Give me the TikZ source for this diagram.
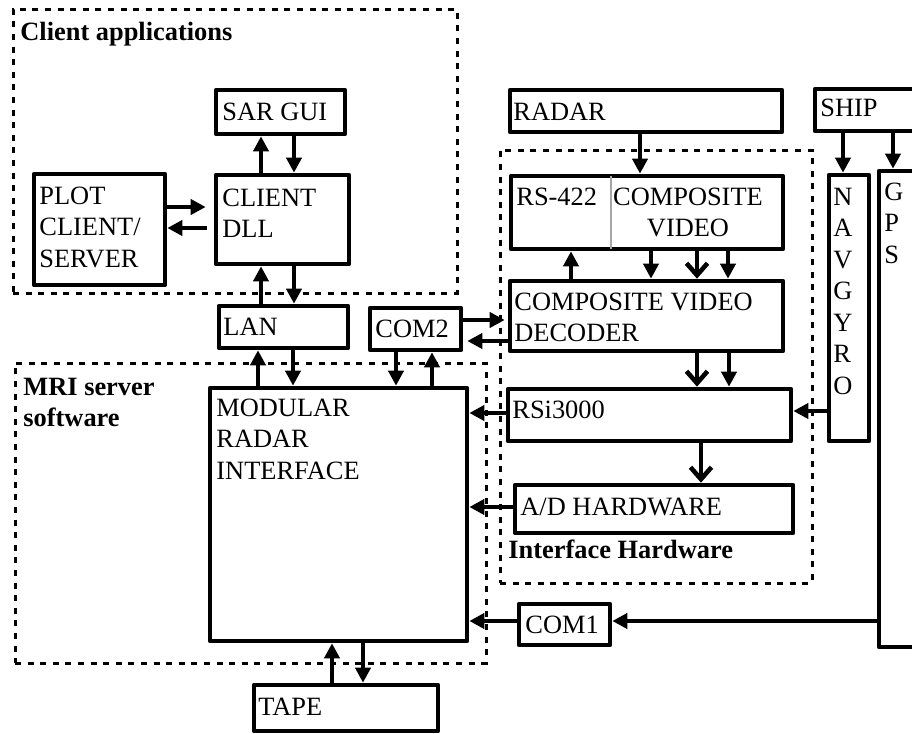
\documentclass[tikz,border=0pt]{standalone}
\usepackage{fontspec}
\setmainfont{Liberation Serif}
\usetikzlibrary{arrows.meta,fit}
\newcommand{\mylines}[1]{\begin{tabular}[t]{@{}l@{}}#1\end{tabular}}
\newcommand{\myclines}[1]{\begin{tabular}[t]{@{}c@{}}#1\end{tabular}}
\begin{document}
\begin{tikzpicture}[x=0.5pt,y=-0.5pt,
  box/.style={draw, line width=2.3pt, line join=round, inner sep=0pt},
  region/.style={draw, line width=1.5pt, dash pattern=on 3pt off 3.3pt, inner sep=0pt},
  txt/.style={anchor=base west, inner sep=0pt, font=\fontsize{13.2}{15.75}\selectfont},
  btxt/.style={anchor=base west, inner sep=0pt, font=\fontsize{13.2}{15.75}\selectfont\bfseries},
  arr/.style={line width=2.3pt, -{Triangle[length=7.5pt 0, width=7.5pt 0]}},
  barb/.style={line width=2.3pt, -{Straight Barb[length=6pt, width=10.5pt]}},
]
\useasboundingbox (0,0) rectangle (912,734);
\clip (0,0) rectangle (912,734);

% dashed regions
\node[region, fit={(13,9) (457,293)}] (clientreg) {};
\node[region, fit={(15,363) (486,663)}] (mrireg) {};
\node[region, fit={(500,150) (812,583)}] (ifreg) {};

% boxes
\node[box, fit={(216,90) (345,134)}] (sar) {};
\node[box, fit={(216,175) (349,264)}] (cdll) {};
\node[box, fit={(34,174) (165,285)}] (plot) {};
\node[box, fit={(219,306) (348,348)}] (lan) {};
\node[box, fit={(370,308) (461,350)}] (com2) {};
\node[box, fit={(210,388) (467,641)}] (mod) {};
\node[box, fit={(254,685) (438,731)}] (tape) {};
\node[box, fit={(510,90) (782,132)}] (radar) {};
\node[box, fit={(815,89) (940,131)}] (ship) {};
\node[box, fit={(511,176) (783,249)}] (rsbox) {};
\draw[gray!70, line width=0.7pt] (611,176) -- (611,249);
\node[box, fit={(510,281) (783,351)}] (dec) {};
\node[box, fit={(829,175) (869,441)}] (nav) {};
\node[box, fit={(879,171) (940,647)}] (gps) {};
\node[box, fit={(508,389) (791,441)}] (rsi) {};
\node[box, fit={(515,485) (793,533)}] (ad) {};
\node[box, fit={(519,604) (610,645)}] (com1) {};

% texts
\node[btxt] (tclient) at (20,40) {Client applications};
\node[btxt] (tmri) at (23,395) {\mylines{MRI server\\software}};
\node[btxt] (tif) at (508,558) {Interface Hardware};
\node[txt] (tsar) at (222,120) {SAR GUI};
\node[txt] (tcdll) at (222,206) {\mylines{CLIENT\\DLL}};
\node[txt] (tplot) at (39,204) {\mylines{PLOT\\CLIENT/\\SERVER}};
\node[txt] (tlan) at (223,335) {LAN};
\node[txt] (tcom2) at (375,337) {COM2};
\node[txt] (tmod) at (216,416) {\mylines{MODULAR\\RADAR\\INTERFACE}};
\node[txt] (ttape) at (258,715) {TAPE};
\node[txt] (tradar) at (513,120) {RADAR};
\node[txt] (tship) at (820,116) {SHIP};
\node[txt] (trs) at (516,205) {RS-422};
\node[txt, anchor=base] (tcv) at (688,205) {\myclines{COMPOSITE\\VIDEO}};
\node[txt] (tdec) at (514,310) {\mylines{COMPOSITE VIDEO\\DECODER}};
\node[txt] (tnav) at (833,205) {\mylines{N\\A\\V\\G\\Y\\R\\O}};
\node[txt] (tgps) at (884,200) {\mylines{G\\P\\S}};
\node[txt] (trsi) at (512,418) {RSi3000};
\node[txt] (tad) at (520,515) {A/D HARDWARE};
\node[txt] (tcom1) at (525,633) {COM1};

% connectors
\draw[arr] (cdll.north -| 261,0) -- (sar.south -| 261,0);
\draw[arr] (sar.south -| 294,0) -- (cdll.north -| 294,0);
\draw[arr, shorten >=4pt] (plot.east |- 0,207) -- (cdll.west |- 0,207);
\draw[arr, shorten <=3.5pt] (cdll.west |- 0,228) -- (plot.east |- 0,228);
\draw[arr] (lan.north -| 261,0) -- (cdll.south -| 261,0);
\draw[arr] (cdll.south -| 294,0) -- (lan.north -| 294,0);
\draw[arr] (mod.north -| 258,0) -- (lan.south -| 258,0);
\draw[arr] (lan.south -| 293,0) -- (mod.north -| 293,0);
\draw[arr] (com2.south -| 396,0) -- (mod.north -| 396,0);
\draw[arr] (mod.north -| 432,0) -- (com2.south -| 432,0);
\draw[arr, shorten >=1.5pt] (com2.east |- 0,320) -- (dec.west |- 0,320);
\draw[arr, shorten >=2pt] (dec.west |- 0,341) -- (com2.east |- 0,341);
\draw[arr] (radar.south -| 640,0) -- (rsbox.north -| 640,0);
\draw[arr] (dec.north -| 571,0) -- (rsbox.south -| 571,0);
\draw[arr] (rsbox.south -| 651,0) -- (dec.north -| 651,0);
\draw[barb] (rsbox.south -| 697,0) -- (dec.north -| 697,0);
\draw[arr] (rsbox.south -| 728,0) -- (dec.north -| 728,0);
\draw[barb] (dec.south -| 697,0) -- (rsi.north -| 697,0);
\draw[arr] (dec.south -| 729,0) -- (rsi.north -| 729,0);
\draw[arr] (ship.south -| 843,0) -- (nav.north -| 843,0);
\draw[arr] (ship.south -| 893,0) -- (gps.north -| 893,0);
\draw[arr] (nav.west |- 0,411) -- (rsi.east |- 0,411);
\draw[arr] (rsi.west |- 0,413) -- (mod.east |- 0,413);
\draw[barb] (rsi.south -| 701,0) -- (ad.north -| 701,0);
\draw[arr] (ad.west |- 0,507) -- (mod.east |- 0,507);
\draw[arr] (gps.west |- 0,621) -- (com1.east |- 0,621);
\draw[arr] (com1.west |- 0,621) -- (mod.east |- 0,621);
\draw[arr] (mod.south -| 363,0) -- (tape.north -| 363,0);
\draw[arr] (tape.north -| 332,0) -- (mod.south -| 332,0);
\end{tikzpicture}
\end{document}
